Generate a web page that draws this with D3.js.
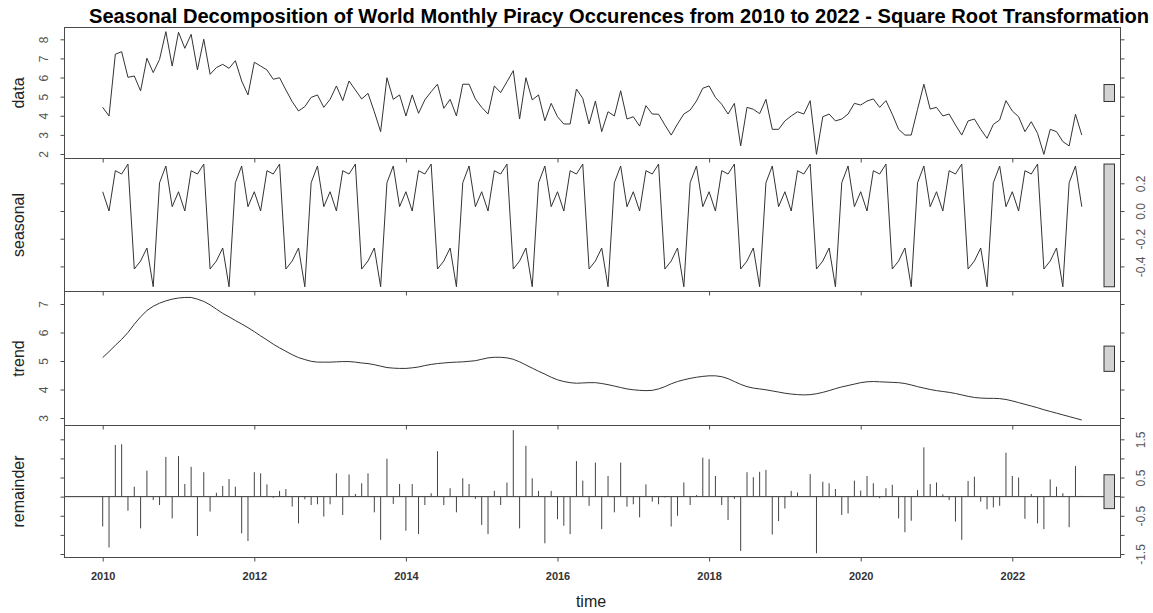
<!DOCTYPE html>
<html>
<head>
<meta charset="utf-8">
<script src="https://cdn.jsdelivr.net/npm/d3@7"></script>
<style>
  body { margin: 0; background: #fff; }
  svg { display: block; font-family: "Liberation Sans", Arial, sans-serif; }
</style>
</head>
<body>
<svg id="chart" width="1153" height="613"></svg>
<script>
// Monthly series, January 2010 to December 2022 (square-root scale)
const startYear = 2010;

const dataValues = [
  4.44,3.99,7.22,7.35,6.01,6.08,5.30,7.01,6.26,6.95,8.40,6.60,
  8.37,7.53,8.26,6.40,8.00,6.17,6.52,6.69,6.48,6.88,5.82,5.09,
  6.80,6.60,6.40,5.91,5.99,5.35,4.74,4.25,4.48,4.96,5.09,4.44,
  4.86,5.56,4.79,5.82,5.35,4.88,5.17,4.21,3.17,5.99,4.86,5.09,
  3.99,5.09,4.13,4.83,5.26,5.65,4.39,4.86,3.99,5.65,5.65,4.88,
  4.44,4.09,5.56,5.21,5.78,6.36,3.83,5.99,4.83,5.09,3.74,4.65,
  3.95,3.57,3.57,5.40,4.91,3.57,4.77,3.17,4.21,3.99,5.31,3.83,
  3.95,3.46,4.53,4.09,4.08,3.52,2.99,3.57,4.09,4.30,4.77,5.44,
  5.56,4.96,4.60,4.09,4.65,2.42,4.44,4.34,4.11,4.86,3.29,3.29,
  3.73,3.99,4.21,4.09,4.79,1.98,3.95,4.09,3.73,3.83,4.09,4.65,
  4.56,4.77,4.88,4.44,4.79,4.08,3.29,2.99,2.99,4.34,5.65,4.35,
  4.44,3.99,4.09,3.52,2.99,3.73,3.83,3.29,2.82,3.55,3.78,4.79,
  4.25,3.95,3.17,3.69,3.08,1.98,3.29,3.17,2.65,2.42,4.08,2.99
];

const seasonalValues = [
  0.139,0.000,0.291,0.267,0.339,-0.419,-0.361,-0.267,-0.547,0.204,0.325,0.031,
  0.139,0.000,0.291,0.267,0.339,-0.419,-0.361,-0.267,-0.547,0.204,0.325,0.031,
  0.139,0.000,0.291,0.267,0.339,-0.419,-0.361,-0.267,-0.547,0.204,0.325,0.031,
  0.139,0.000,0.291,0.267,0.339,-0.419,-0.361,-0.267,-0.547,0.204,0.325,0.031,
  0.139,0.000,0.291,0.267,0.339,-0.419,-0.361,-0.267,-0.547,0.204,0.325,0.031,
  0.139,0.000,0.291,0.267,0.339,-0.419,-0.361,-0.267,-0.547,0.204,0.325,0.031,
  0.139,0.000,0.291,0.267,0.339,-0.419,-0.361,-0.267,-0.547,0.204,0.325,0.031,
  0.139,0.000,0.291,0.267,0.339,-0.419,-0.361,-0.267,-0.547,0.204,0.325,0.031,
  0.139,0.000,0.291,0.267,0.339,-0.419,-0.361,-0.267,-0.547,0.204,0.325,0.031,
  0.139,0.000,0.291,0.267,0.339,-0.419,-0.361,-0.267,-0.547,0.204,0.325,0.031,
  0.139,0.000,0.291,0.267,0.339,-0.419,-0.361,-0.267,-0.547,0.204,0.325,0.031,
  0.139,0.000,0.291,0.267,0.339,-0.419,-0.361,-0.267,-0.547,0.204,0.325,0.031,
  0.139,0.000,0.291,0.267,0.339,-0.419,-0.361,-0.267,-0.547,0.204,0.325,0.031
];

const trendValues = [
  5.12,5.33,5.55,5.76,6.00,6.29,6.55,6.77,6.92,7.03,7.11,7.17,
  7.21,7.23,7.23,7.17,7.09,6.97,6.82,6.67,6.55,6.42,6.30,6.17,
  6.03,5.88,5.74,5.59,5.46,5.34,5.22,5.12,5.05,4.99,4.96,4.96,
  4.96,4.97,4.98,4.98,4.96,4.93,4.91,4.87,4.82,4.77,4.75,4.74,
  4.74,4.76,4.79,4.84,4.88,4.91,4.93,4.95,4.96,4.97,4.99,5.01,
  5.06,5.11,5.13,5.13,5.11,5.06,4.97,4.86,4.75,4.64,4.54,4.43,
  4.34,4.28,4.24,4.22,4.23,4.24,4.24,4.21,4.17,4.12,4.07,4.02,
  3.99,3.97,3.96,3.97,4.02,4.10,4.20,4.28,4.34,4.39,4.43,4.46,
  4.48,4.48,4.45,4.38,4.28,4.18,4.10,4.05,4.02,3.99,3.95,3.91,
  3.87,3.84,3.82,3.81,3.82,3.85,3.90,3.96,4.03,4.09,4.14,4.19,
  4.24,4.27,4.28,4.27,4.26,4.25,4.24,4.21,4.16,4.10,4.05,4.00,
  3.96,3.93,3.90,3.86,3.81,3.76,3.72,3.70,3.69,3.69,3.68,3.65,
  3.60,3.54,3.48,3.42,3.36,3.29,3.23,3.17,3.11,3.05,2.99,2.93
];

const remainderValues = [
  -0.78,-1.33,1.35,1.37,-0.37,0.26,-0.83,0.68,-0.09,-0.22,1.04,-0.57,
  1.06,0.33,0.78,-1.03,0.64,-0.39,0.10,0.28,0.46,0.26,-0.96,-1.16,
  0.64,0.61,0.32,-0.03,0.15,0.20,-0.26,-0.70,-0.07,-0.22,-0.20,-0.52,
  -0.20,0.61,-0.48,0.58,0.07,0.35,0.61,-0.41,-1.13,0.99,-0.19,0.33,
  -0.89,0.33,-0.98,-0.22,0.09,1.19,-0.22,0.22,-0.41,0.48,0.33,-0.06,
  -0.74,-0.98,0.15,-0.22,0.37,1.74,-0.83,1.33,0.48,0.15,-1.22,0.15,
  -0.59,-0.76,-0.98,0.93,0.42,-0.24,0.89,-0.85,0.54,-0.41,0.89,-0.26,
  -0.20,-0.54,0.32,-0.13,-0.20,-0.02,-0.78,-0.50,0.37,-0.22,0.04,1.02,
  0.98,0.54,-0.22,-0.61,-0.06,-1.42,0.64,0.51,0.65,0.70,-0.99,-0.64,
  -0.31,0.15,0.11,0.00,0.59,-1.48,0.39,0.35,0.20,-0.48,-0.44,0.42,
  0.16,0.54,0.35,-0.04,0.22,0.31,-0.57,-0.93,-0.63,0.17,1.29,0.33,
  0.37,0.06,-0.09,-0.65,-1.13,0.41,0.52,-0.13,-0.33,-0.28,-0.24,1.15,
  0.54,0.50,-0.58,0.07,-0.70,-0.85,0.45,0.26,0.09,-0.80,0.80,0.02
];

const yearTicks = [2010, 2012, 2014, 2016, 2018, 2020, 2022];
const dataTicks = [2, 3, 4, 5, 6, 7, 8];
const seasonalTicks = [-0.4, -0.2, 0, 0.2];
const trendTicks = [3, 4, 5, 6, 7];
const remainderTicks = [-1.5, -1, -0.5, 0, 0.5, 1, 1.5];
const remainderLabels = [-1.5, -0.5, 0.5, 1.5];

const titleText = "Seasonal Decomposition of World Monthly Piracy Occurences from 2010 to 2022 - Square Root Transformation";
const xTitle = "time";

// ---- layout ----
const svg = d3.select("#chart");
const left = 64.5, right = 1120.5;
const frameEdges = [27.5, 158.5, 291.5, 425.5, 557.5];
const tickLen = 4;
const ink = "#333";
const axisInk = "#4a4a4a";

const locale = d3.formatLocale({decimal: ".", thousands: ",", grouping: [3], currency: ["", ""], minus: "-"});
const f1 = locale.format(".1f");
const f0 = locale.format("d");

const months = dataValues.map((_, i) => startYear + i / 12);
const x = d3.scaleLinear().domain([2010, 2022]).range([102.7, 1012.3]);

const panels = [
  {name: "data", values: dataValues, y: d3.scaleLinear().domain([2, 8]).range([154, 39.3]),
   ticks: dataTicks, labelSide: "left", fmt: f0, kind: "line"},
  {name: "seasonal", values: seasonalValues, y: d3.scaleLinear().domain([-0.4, 0.2]).range([266.4, 183.3]),
   ticks: seasonalTicks, labelSide: "right", fmt: f1, kind: "line"},
  {name: "trend", values: trendValues, y: d3.scaleLinear().domain([3, 7]).range([418, 304]),
   ticks: trendTicks, labelSide: "left", fmt: f0, kind: "line"},
  {name: "remainder", values: remainderValues, y: d3.scaleLinear().domain([-1.5, 1.5]).range([554, 439.3]),
   ticks: remainderTicks, labelSide: "right", fmt: d => remainderLabels.includes(d) ? f1(d) : "", kind: "spikes"}
];

// common bar height: the smallest range among the four components
const minRange = d3.min(panels, p => { const e = d3.extent(p.values); return e[1] - e[0]; });

// title
const title = svg.append("text")
  .attr("x", 89).attr("y", 23)
  .attr("font-size", 19).attr("font-weight", "bold").attr("fill", "#000")
  .text(titleText);
const tw = title.node().getComputedTextLength();
title.attr("font-size", 19 * 1061 / tw);

panels.forEach((p, k) => {
  const top = frameEdges[k], bottom = frameEdges[k + 1];
  const g = svg.append("g").attr("class", "panel-" + p.name);
  const y = p.y;

  if (p.kind === "line") {
    const line = d3.line().x((d, i) => x(months[i])).y(d => y(d));
    g.append("path").datum(p.values)
      .attr("d", line).attr("fill", "none")
      .attr("stroke", ink).attr("stroke-width", 1).attr("stroke-linejoin", "miter");
  } else {
    g.append("line").attr("x1", left).attr("x2", right)
      .attr("y1", y(0)).attr("y2", y(0)).attr("stroke", ink).attr("stroke-width", 1);
    g.selectAll("line.spike").data(p.values).join("line")
      .attr("class", "spike")
      .attr("x1", (d, i) => x(months[i])).attr("x2", (d, i) => x(months[i]))
      .attr("y1", y(0)).attr("y2", d => y(d))
      .attr("stroke", "#444").attr("stroke-width", 1);
  }

  // range bar
  const ext = d3.extent(p.values);
  const mid = (ext[0] + ext[1]) / 2;
  const y1 = y(mid + minRange / 2), y2 = y(mid - minRange / 2);
  g.append("rect").attr("x", 1104).attr("width", 10.5)
    .attr("y", y1).attr("height", y2 - y1)
    .attr("fill", "#d3d3d3").attr("stroke", "#333").attr("stroke-width", 1);

  // frame
  g.append("rect").attr("x", left).attr("y", top)
    .attr("width", right - left).attr("height", bottom - top)
    .attr("fill", "none").attr("stroke", axisInk).attr("stroke-width", 1);

  // y axes on both sides, labels on one
  const showL = p.labelSide === "left";
  const axL = g.append("g").attr("transform", `translate(${left},0)`)
    .call(d3.axisLeft(y).tickValues(p.ticks).tickSize(tickLen).tickFormat(showL ? p.fmt : () => ""));
  const axR = g.append("g").attr("transform", `translate(${right},0)`)
    .call(d3.axisRight(y).tickValues(p.ticks).tickSize(tickLen).tickFormat(showL ? () => "" : p.fmt));
  [axL, axR].forEach(a => {
    a.select(".domain").remove();
    a.selectAll(".tick line").attr("stroke", axisInk);
  });
  const labelAxis = showL ? axL : axR;
  labelAxis.selectAll(".tick text")
    .attr("x", 0).attr("y", showL ? -20.4 : 19.8).attr("dy", "0.35em")
    .attr("transform", "rotate(-90)")
    .attr("text-anchor", "middle")
    .attr("font-size", 12).attr("fill", "#555")
    .attr("font-family", "'Liberation Sans', Arial, sans-serif");

  // time ticks along the bottom edge of each panel
  const isLast = k === panels.length - 1;
  const axB = g.append("g").attr("transform", `translate(0,${bottom})`)
    .call(d3.axisBottom(x).tickValues(yearTicks).tickSize(tickLen).tickPadding(11)
      .tickFormat(isLast ? f0 : () => ""));
  axB.select(".domain").remove();
  axB.selectAll(".tick line").attr("stroke", axisInk);
  axB.selectAll(".tick text")
    .attr("font-size", 11).attr("font-weight", "bold").attr("fill", "#333")
    .attr("font-family", "'Liberation Sans', Arial, sans-serif");

  // panel name
  svg.append("text")
    .attr("transform", `translate(23.5,${(top + bottom) / 2}) rotate(-90)`)
    .attr("text-anchor", "middle")
    .attr("font-size", 16).attr("fill", "#222")
    .text(p.name);
});

svg.append("text")
  .attr("x", 591).attr("y", 607)
  .attr("text-anchor", "middle")
  .attr("font-size", 16).attr("fill", "#222")
  .text(xTitle);
</script>
</body>
</html>
